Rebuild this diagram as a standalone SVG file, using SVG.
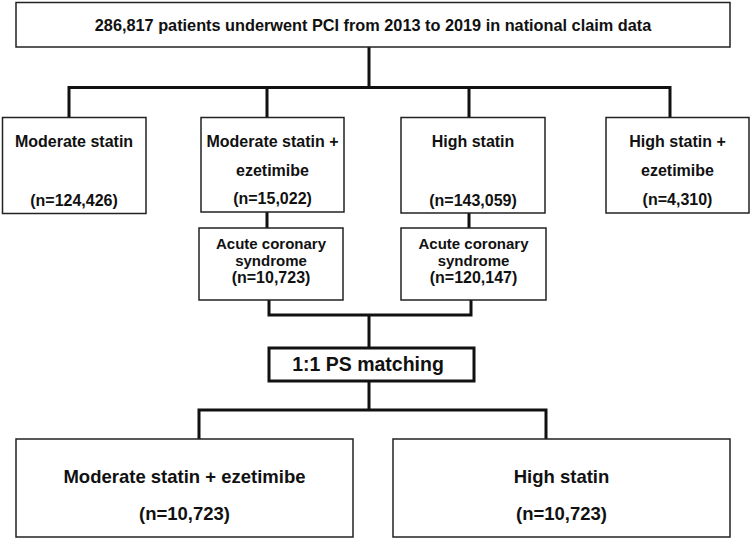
<svg xmlns="http://www.w3.org/2000/svg" width="751" height="539" viewBox="0 0 751 539">
<style>
.box{fill:#fff;stroke:#222;stroke-width:1.5}
.thick{fill:#fff;stroke:#111;stroke-width:3}
.conn{fill:none;stroke:#111;stroke-width:3;stroke-linecap:square}
text{font-family:"Liberation Sans",Arial,sans-serif;font-weight:bold;fill:#111;text-anchor:middle}
.t15{font-size:15px}
.ttop{font-size:16.3px}
.t16{font-size:16px}
.t18{font-size:18.5px}
.tps{font-size:19.5px}
</style>
<rect width="751" height="539" fill="#fff"/>
<g id="connectors">
<path class="conn" d="M369,47 V87.5 M69,87.5 H670 M69,87.5 V117 M267,87.5 V117 M469,87.5 V117 M670,87.5 V117"/>
<path class="conn" d="M267,212 V228 M469,213 V228"/>
<path class="conn" d="M269,300 V315 H471 V300 M369,315 V348"/>
<path class="conn" d="M369,381 V410 M199,410 H546 M199,410 V439 M546,410 V439"/>
</g>
<g id="n-total">
<rect class="box" x="16" y="2.5" width="714" height="44.5"/>
<text class="ttop" x="373" y="31">286,817 patients underwent PCI from 2013 to 2019 in national claim data</text>
</g>
<g id="n-moderate">
<rect class="box" x="2.5" y="117.5" width="143.5" height="96"/>
<text class="t16" x="74" y="147">Moderate statin</text>
<text class="t16" x="74" y="206">(n=124,426)</text>
</g>
<g id="n-moderate-eze">
<rect class="box" x="201" y="117.5" width="143" height="94.5"/>
<text class="t16" x="272.5" y="147">Moderate statin +</text>
<text class="t16" x="272.5" y="176">ezetimibe</text>
<text class="t16" x="272.5" y="204">(n=15,022)</text>
</g>
<g id="n-high">
<rect class="box" x="401" y="117.5" width="144" height="95.5"/>
<text class="t16" x="473" y="147">High statin</text>
<text class="t16" x="473" y="206">(n=143,059)</text>
</g>
<g id="n-high-eze">
<rect class="box" x="606" y="117.5" width="143" height="95.5"/>
<text class="t16" x="677.5" y="147">High statin +</text>
<text class="t16" x="677.5" y="176">ezetimibe</text>
<text class="t16" x="677.5" y="205">(n=4,310)</text>
</g>
<g id="n-acs1">
<rect class="box" x="199" y="228" width="144" height="72"/>
<text class="t15" x="271" y="248.5">Acute coronary</text>
<text class="t15" x="271" y="266">syndrome</text>
<text class="t16" x="271" y="283">(n=10,723)</text>
</g>
<g id="n-acs2">
<rect class="box" x="401" y="228" width="145" height="72"/>
<text class="t15" x="473.5" y="248.5">Acute coronary</text>
<text class="t15" x="473.5" y="266">syndrome</text>
<text class="t16" x="473.5" y="283">(n=120,147)</text>
</g>
<g id="n-ps">
<rect class="thick" x="269" y="348" width="205" height="33"/>
<text class="tps" x="368" y="371">1:1 PS matching</text>
</g>
<g id="n-final-mod">
<rect class="box" x="16" y="439" width="337" height="98"/>
<text class="t18" x="184.5" y="482.5">Moderate statin + ezetimibe</text>
<text class="t18" x="184.5" y="519.5">(n=10,723)</text>
</g>
<g id="n-final-high">
<rect class="box" x="393" y="439" width="337" height="98"/>
<text class="t18" x="561.5" y="482.5">High statin</text>
<text class="t18" x="561.5" y="519.5">(n=10,723)</text>
</g>
</svg>
